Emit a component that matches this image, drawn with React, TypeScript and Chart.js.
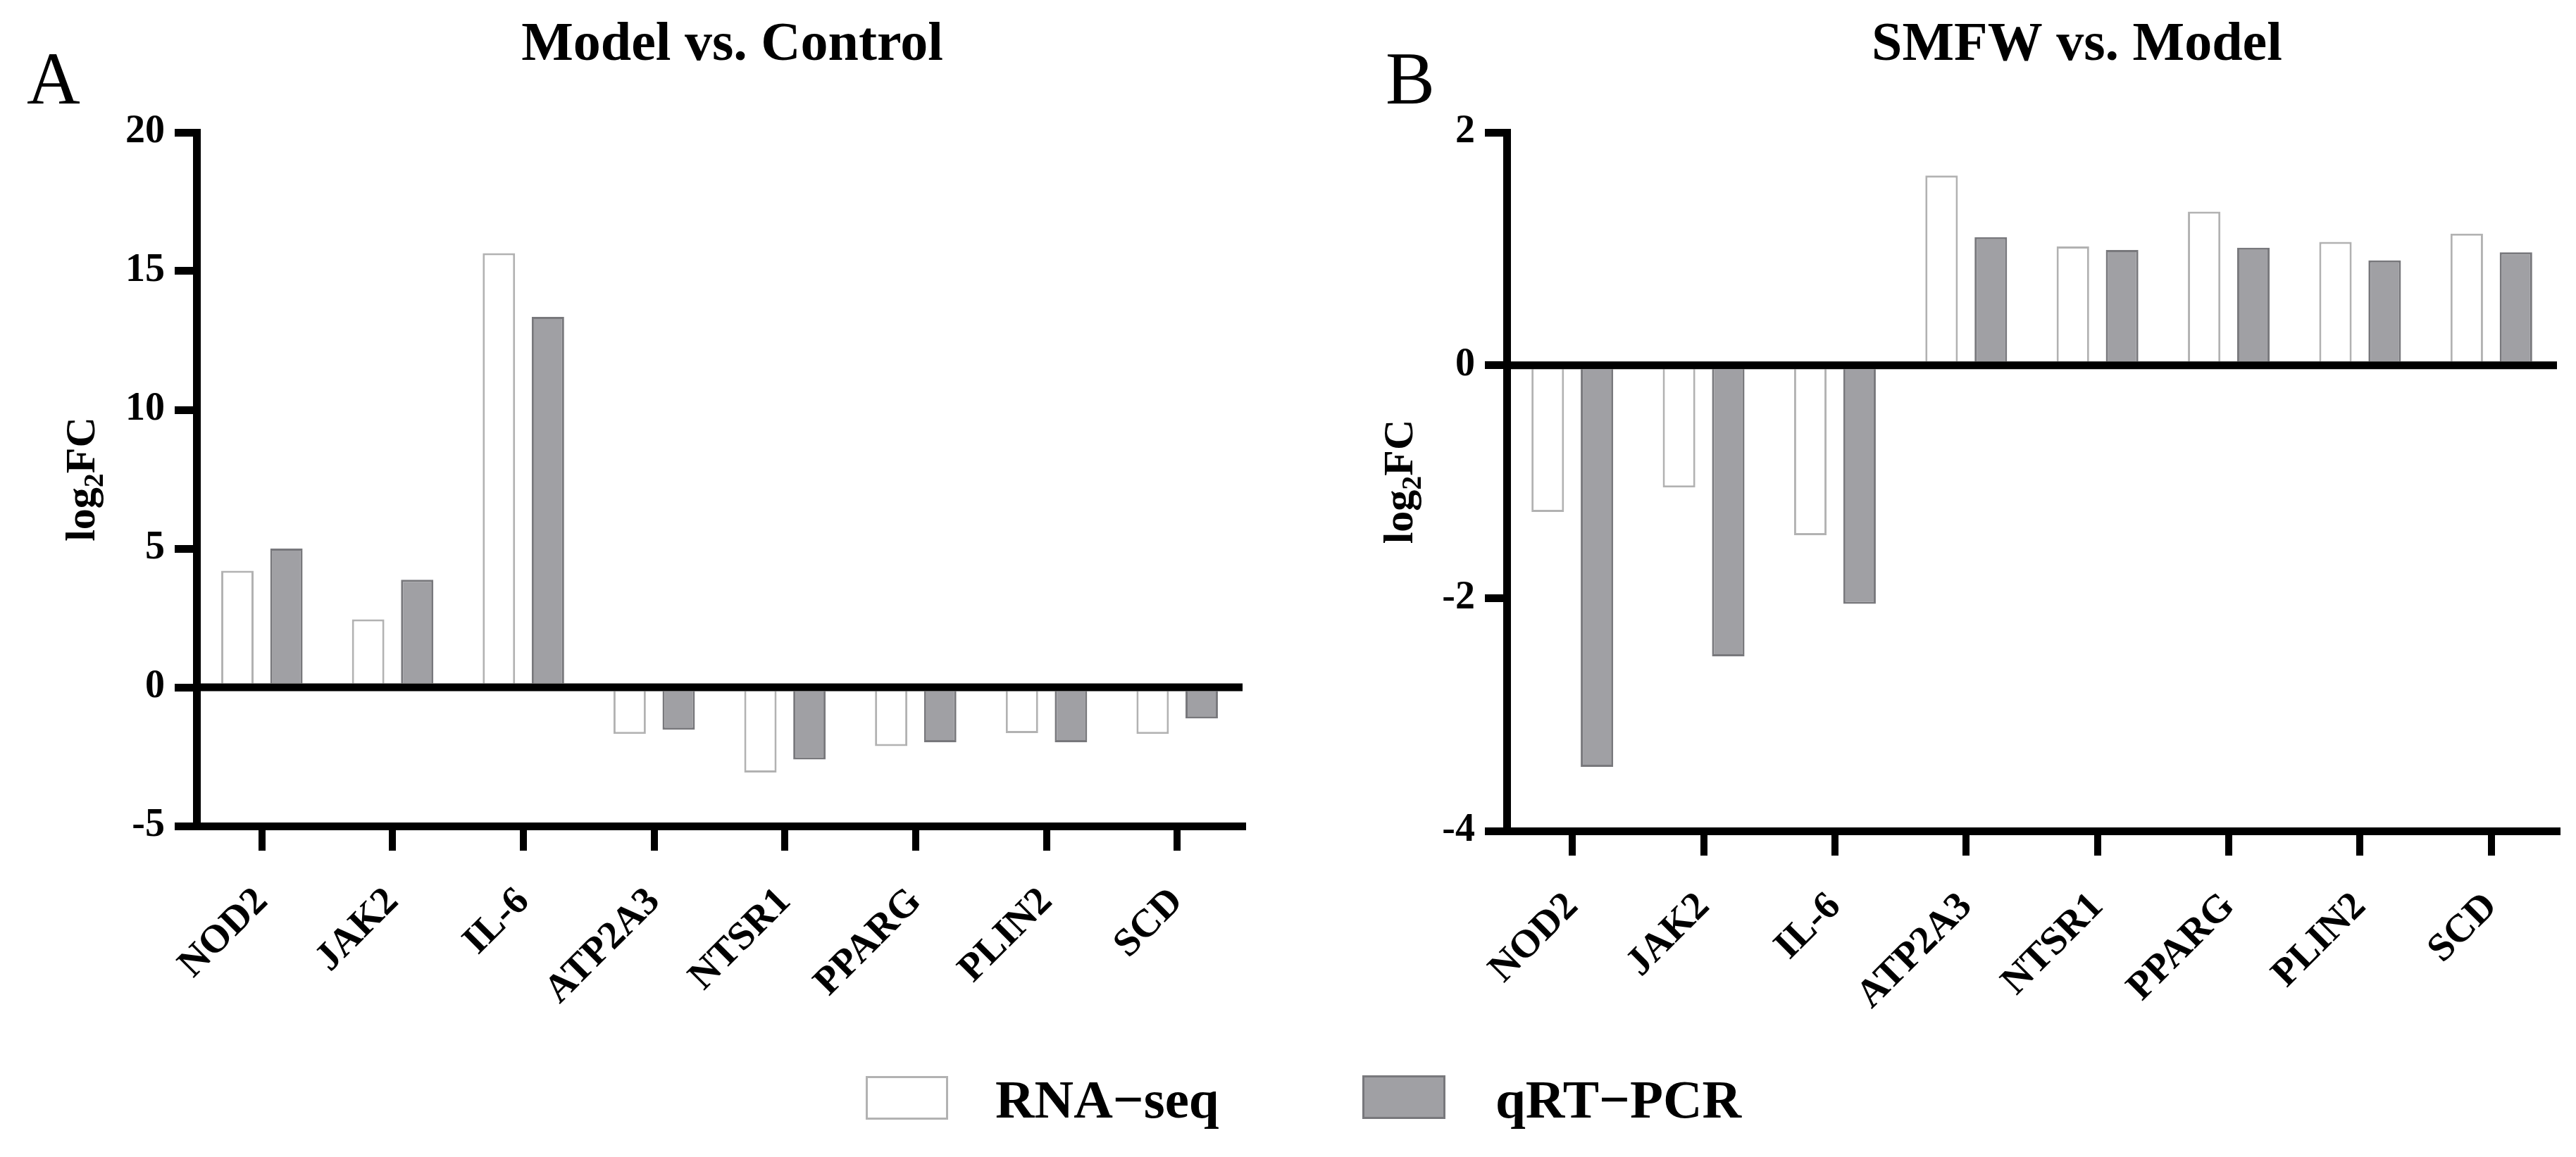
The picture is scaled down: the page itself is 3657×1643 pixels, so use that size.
import React, { useEffect, useRef } from "react";
import { Chart, registerables } from "chart.js";

Chart.register(...registerables);

// ---------- data ----------
const genes = ["NOD2", "JAK2", "IL-6", "ATP2A3", "NTSR1", "PPARG", "PLIN2", "SCD"];
const seriesNames = ["RNA\u2212seq", "qRT\u2212PCR"];
const panelTitles = ["Model vs. Control", "SMFW vs. Model"];
const panelLetters = ["A", "B"];

const rnaSeqA = [4.2, 2.45, 15.65, -1.68, -3.07, -2.12, -1.65, -1.68];
const qpcrA = [5.0, 3.88, 13.35, -1.53, -2.6, -1.98, -1.98, -1.12];
const yTicksA = [-5, 0, 5, 10, 15, 20];

const rnaSeqB = [-1.26, -1.05, -1.46, 1.63, 1.02, 1.32, 1.06, 1.13];
const qpcrB = [-3.45, -2.5, -2.05, 1.1, 0.99, 1.01, 0.9, 0.97];
const yTicksB = [-4, -2, 0, 2];

// ---------- style ----------
const FONT = "'Liberation Serif', 'Times New Roman', Times, serif";
const RNA_FILL = "#ffffff";
const RNA_BORDER = "#b2b2b2";
const PCR_FILL = "#a0a0a4";
const PCR_BORDER = "#78787c";
const CANVAS_H = 1460;
const XAXIS_H = 260;

Chart.defaults.font.family = FONT;

type PanelProps = {
  letter: string;
  title: string;
  rna: number[];
  qpcr: number[];
  yTicks: number[];
  width: number;
  left: number;
  right: number;
  top: number;
  bottom: number;
  titleDx: number;
  letterX: number;
  yTitleX: number;
};

function Panel(p: PanelProps) {
  const ref = useRef<HTMLCanvasElement>(null);

  useEffect(() => {
    const canvas = ref.current!;
    const tickFont = { family: FONT, size: 56, weight: "bold" as const };

    const decor = {
      id: "decor",
      afterDatasetsDraw(chart: any) {
        const { ctx, chartArea, scales } = chart;
        const y0 = scales.y.getPixelForValue(0);
        ctx.save();
        ctx.strokeStyle = "#000";
        ctx.lineWidth = 11;
        ctx.lineCap = "butt";
        ctx.beginPath();
        ctx.moveTo(chartArea.left, y0);
        ctx.lineTo(chartArea.right, y0);
        ctx.stroke();
        ctx.restore();
      },
      afterDraw(chart: any) {
        const { ctx, chartArea } = chart;
        ctx.save();
        ctx.fillStyle = "#000";
        ctx.textBaseline = "alphabetic";
        // title
        ctx.font = `bold 78px ${FONT}`;
        ctx.textAlign = "center";
        ctx.fillText(p.title, (chartArea.left + chartArea.right) / 2 + p.titleDx, 85);
        // panel letter
        ctx.font = `105px ${FONT}`;
        ctx.textAlign = "left";
        ctx.fillText(p.letter, p.letterX, 147);
        // y axis title: log2FC with subscript
        const cy = (chartArea.top + chartArea.bottom) / 2;
        ctx.translate(p.yTitleX, cy);
        ctx.rotate(-Math.PI / 2);
        const big = `bold 60px ${FONT}`;
        const small = `bold 40px ${FONT}`;
        ctx.font = big;
        const w1 = ctx.measureText("log").width;
        const w3 = ctx.measureText("FC").width;
        ctx.font = small;
        const w2 = ctx.measureText("2").width;
        let x = -(w1 + w2 + w3) / 2;
        const base = 20;
        ctx.font = big;
        ctx.fillText("log", x, base);
        x += w1;
        ctx.font = small;
        ctx.fillText("2", x, base + 12);
        x += w2;
        ctx.font = big;
        ctx.fillText("FC", x, base);
        ctx.restore();
      },
    };

    const yMin = Math.min(...p.yTicks);
    const yMax = Math.max(...p.yTicks);
    const yStep = p.yTicks[1] - p.yTicks[0];

    const chart = new Chart(canvas, {
      type: "bar",
      data: {
        labels: genes,
        datasets: [
          {
            label: seriesNames[0],
            data: p.rna,
            backgroundColor: RNA_FILL,
            borderColor: RNA_BORDER,
            borderWidth: 3,
          },
          {
            label: seriesNames[1],
            data: p.qpcr,
            backgroundColor: PCR_FILL,
            borderColor: PCR_BORDER,
            borderWidth: 3,
          },
        ],
      },
      options: {
        animation: false,
        responsive: false,
        devicePixelRatio: 1,
        layout: {
          padding: {
            left: 0,
            top: p.top,
            right: p.width - p.right,
            bottom: CANVAS_H - p.bottom - XAXIS_H,
          },
        },
        plugins: {
          legend: { display: false },
          title: { display: false },
          tooltip: { enabled: false },
        },
        datasets: {
          bar: { categoryPercentage: 0.75, barPercentage: 0.66 },
        },
        scales: {
          x: {
            offset: true,
            grid: {
              offset: false,
              drawOnChartArea: false,
              drawTicks: true,
              tickLength: 35,
              tickWidth: 10,
              tickColor: "#000",
              color: "#000",
              lineWidth: 10,
            },
            border: { display: true, color: "#000", width: 11 },
            ticks: {
              autoSkip: false,
              maxRotation: 45,
              minRotation: 45,
              padding: 40,
              color: "#000",
              font: tickFont,
            },
            afterFit: (s: any) => {
              s.height = XAXIS_H;
            },
          },
          y: {
            min: yMin,
            max: yMax,
            ticks: {
              stepSize: yStep,
              padding: 14,
              color: "#000",
              font: tickFont,
            },
            grid: {
              drawOnChartArea: false,
              drawTicks: true,
              tickLength: 31,
              tickWidth: 11,
              tickColor: "#000",
              color: "#000",
              lineWidth: 11,
            },
            border: { display: true, color: "#000", width: 11 },
            afterFit: (s: any) => {
              s.width = p.left;
            },
          },
        },
      },
      plugins: [decor],
    });

    return () => chart.destroy();
  }, []);

  return (
    <canvas
      ref={ref}
      width={p.width}
      height={CANVAS_H}
      style={{ display: "block", width: p.width, height: CANVAS_H }}
    />
  );
}

export default function App() {
  const legendText: React.CSSProperties = {
    position: "absolute",
    font: `bold 77px ${FONT}`,
    lineHeight: "77px",
    color: "#000",
    whiteSpace: "nowrap",
    top: 1523,
  };
  return (
    <div
      style={{
        position: "fixed",
        left: 0,
        top: 0,
        width: 3657,
        height: 1643,
        background: "#fff",
        overflow: "hidden",
      }}
    >
      <div style={{ position: "absolute", left: 0, top: 0 }}>
        <Panel
          letter={panelLetters[0]}
          title={panelTitles[0]}
          rna={rnaSeqA}
          qpcr={qpcrA}
          yTicks={yTicksA}
          width={1830}
          left={279}
          right={1764}
          top={188}
          bottom={1173}
          titleDx={18}
          letterX={38}
          yTitleX={114}
        />
      </div>
      <div style={{ position: "absolute", left: 1830, top: 0 }}>
        <Panel
          letter={panelLetters[1]}
          title={panelTitles[1]}
          rna={rnaSeqB}
          qpcr={qpcrB}
          yTicks={yTicksB}
          width={1827}
          left={309}
          right={1800}
          top={188}
          bottom={1180}
          titleDx={64}
          letterX={137}
          yTitleX={155}
        />
      </div>
      {/* legend */}
      <div
        style={{
          position: "absolute",
          left: 1229,
          top: 1528,
          width: 117,
          height: 62,
          boxSizing: "border-box",
          border: `3px solid ${RNA_BORDER}`,
          background: RNA_FILL,
        }}
      />
      <span style={{ ...legendText, left: 1413 }}>{seriesNames[0]}</span>
      <div
        style={{
          position: "absolute",
          left: 1934,
          top: 1527,
          width: 118,
          height: 62,
          boxSizing: "border-box",
          border: `3px solid ${PCR_BORDER}`,
          background: PCR_FILL,
        }}
      />
      <span style={{ ...legendText, left: 2123 }}>{seriesNames[1]}</span>
    </div>
  );
}
